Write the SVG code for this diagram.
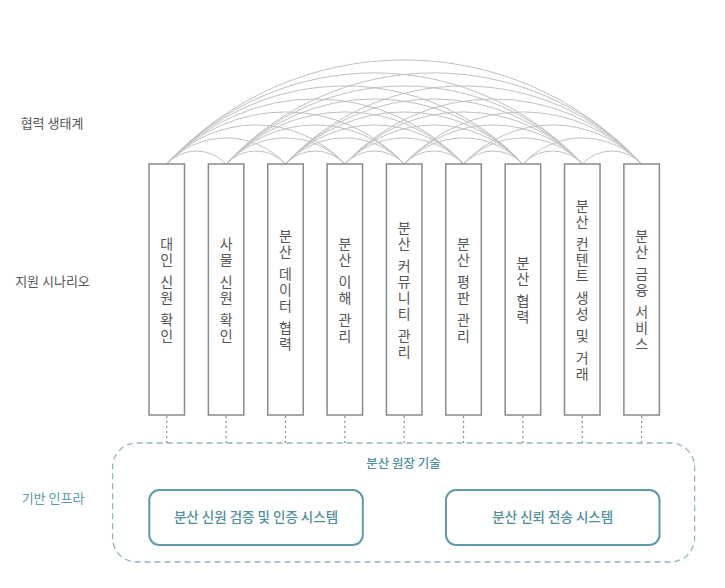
<svg xmlns="http://www.w3.org/2000/svg" width="725" height="588" viewBox="0 0 725 588">
<style>
text{font-family:"Noto Sans CJK KR","Noto Sans",sans-serif;}
.lbl{font-size:13px;fill:#555;text-anchor:middle;}
.lblt{font-size:13px;fill:#5a9aaa;text-anchor:middle;}
.arc{fill:none;stroke:#c0c0c0;stroke-width:1;}
.col{fill:#fff;stroke:#8a8a8a;stroke-width:1.5;}
.ct{font-size:14px;fill:#555;text-anchor:middle;}
.dot{stroke:#8a8a8a;stroke-width:1.2;stroke-dasharray:2 3;}
.outer{fill:none;stroke:#8fb5bf;stroke-width:1.3;stroke-dasharray:6 4;}
.inner{fill:#fff;stroke:#5e9aa9;stroke-width:2;}
.bt{font-size:13.5px;font-weight:500;fill:#4f8f9e;text-anchor:middle;}
.tt{font-size:12.5px;font-weight:500;fill:#4f8f9e;text-anchor:middle;}
</style>
<g id="labels">
<text class="lbl" x="52" y="128">협력 생태계</text>
<text class="lbl" x="52.5" y="285.5">지원 시나리오</text>
<text class="lblt" x="53" y="502.5">기반 인프라</text>
</g>
<g id="connectors">
<path class="arc" d="M166.75 164A40.4 40.4 0 0 1 226.11 164"/>
<path class="arc" d="M226.11 164A40.4 40.4 0 0 1 285.47 164"/>
<path class="arc" d="M285.47 164A40.4 40.4 0 0 1 344.83 164"/>
<path class="arc" d="M344.83 164A40.4 40.4 0 0 1 404.19 164"/>
<path class="arc" d="M404.19 164A40.4 40.4 0 0 1 463.55 164"/>
<path class="arc" d="M463.55 164A40.4 40.4 0 0 1 522.91 164"/>
<path class="arc" d="M522.91 164A40.4 40.4 0 0 1 582.27 164"/>
<path class="arc" d="M582.27 164A40.4 40.4 0 0 1 641.63 164"/>
<path class="arc" d="M166.75 164A80.7 80.7 0 0 1 285.47 164"/>
<path class="arc" d="M226.11 164A80.7 80.7 0 0 1 344.83 164"/>
<path class="arc" d="M285.47 164A80.7 80.7 0 0 1 404.19 164"/>
<path class="arc" d="M344.83 164A80.7 80.7 0 0 1 463.55 164"/>
<path class="arc" d="M404.19 164A80.7 80.7 0 0 1 522.91 164"/>
<path class="arc" d="M463.55 164A80.7 80.7 0 0 1 582.27 164"/>
<path class="arc" d="M522.91 164A80.7 80.7 0 0 1 641.63 164"/>
<path class="arc" d="M166.75 164A121.1 121.1 0 0 1 344.83 164"/>
<path class="arc" d="M226.11 164A121.1 121.1 0 0 1 404.19 164"/>
<path class="arc" d="M285.47 164A121.1 121.1 0 0 1 463.55 164"/>
<path class="arc" d="M344.83 164A121.1 121.1 0 0 1 522.91 164"/>
<path class="arc" d="M404.19 164A121.1 121.1 0 0 1 582.27 164"/>
<path class="arc" d="M463.55 164A121.1 121.1 0 0 1 641.63 164"/>
<path class="arc" d="M166.75 164A161.4 161.4 0 0 1 404.19 164"/>
<path class="arc" d="M226.11 164A161.4 161.4 0 0 1 463.55 164"/>
<path class="arc" d="M285.47 164A161.4 161.4 0 0 1 522.91 164"/>
<path class="arc" d="M344.83 164A161.4 161.4 0 0 1 582.27 164"/>
<path class="arc" d="M404.19 164A161.4 161.4 0 0 1 641.63 164"/>
<path class="arc" d="M166.75 164A201.8 201.8 0 0 1 463.55 164"/>
<path class="arc" d="M226.11 164A201.8 201.8 0 0 1 522.91 164"/>
<path class="arc" d="M285.47 164A201.8 201.8 0 0 1 582.27 164"/>
<path class="arc" d="M344.83 164A201.8 201.8 0 0 1 641.63 164"/>
<path class="arc" d="M166.75 164A242.2 242.2 0 0 1 522.91 164"/>
<path class="arc" d="M226.11 164A242.2 242.2 0 0 1 582.27 164"/>
<path class="arc" d="M285.47 164A242.2 242.2 0 0 1 641.63 164"/>
<path class="arc" d="M166.75 164A282.5 282.5 0 0 1 582.27 164"/>
<path class="arc" d="M226.11 164A282.5 282.5 0 0 1 641.63 164"/>
<path class="arc" d="M166.75 164A322.9 322.9 0 0 1 641.63 164"/>
<line class="dot" x1="166.75" y1="416" x2="166.75" y2="443"/>
<line class="dot" x1="226.11" y1="416" x2="226.11" y2="443"/>
<line class="dot" x1="285.47" y1="416" x2="285.47" y2="443"/>
<line class="dot" x1="344.83" y1="416" x2="344.83" y2="443"/>
<line class="dot" x1="404.19" y1="416" x2="404.19" y2="443"/>
<line class="dot" x1="463.55" y1="416" x2="463.55" y2="443"/>
<line class="dot" x1="522.91" y1="416" x2="522.91" y2="443"/>
<line class="dot" x1="582.27" y1="416" x2="582.27" y2="443"/>
<line class="dot" x1="641.63" y1="416" x2="641.63" y2="443"/>
</g>
<g id="col1"><rect class="col" x="149" y="164" width="35.5" height="251"/>
<text class="ct" x="166.75 166.75 166.75 166.75 166.75 166.75 166.75 166.75" y="248.5 264.5 275.5 286.5 302.5 313.5 324.5 340.5">대인 신원 확인</text></g>
<g id="col2"><rect class="col" x="208.36" y="164" width="35.5" height="251"/>
<text class="ct" x="226.11 226.11 226.11 226.11 226.11 226.11 226.11 226.11" y="248.5 264.5 275.5 286.5 302.5 313.5 324.5 340.5">사물 신원 확인</text></g>
<g id="col3"><rect class="col" x="267.72" y="164" width="35.5" height="251"/>
<text class="ct" x="285.47 285.47 285.47 285.47 285.47 285.47 285.47 285.47 285.47" y="240.5 256.5 267.5 278.5 294.5 310.5 321.5 332.5 348.5">분산 데이터 협력</text></g>
<g id="col4"><rect class="col" x="327.08" y="164" width="35.5" height="251"/>
<text class="ct" x="344.83 344.83 344.83 344.83 344.83 344.83 344.83 344.83" y="248.5 264.5 275.5 286.5 302.5 313.5 324.5 340.5">분산 이해 관리</text></g>
<g id="col5"><rect class="col" x="386.44" y="164" width="35.5" height="251"/>
<text class="ct" x="404.19 404.19 404.19 404.19 404.19 404.19 404.19 404.19 404.19 404.19" y="232.5 248.5 259.5 270.5 286.5 302.5 318.5 329.5 340.5 356.5">분산 커뮤니티 관리</text></g>
<g id="col6"><rect class="col" x="445.8" y="164" width="35.5" height="251"/>
<text class="ct" x="463.55 463.55 463.55 463.55 463.55 463.55 463.55 463.55" y="248.5 264.5 275.5 286.5 302.5 313.5 324.5 340.5">분산 평판 관리</text></g>
<g id="col7"><rect class="col" x="505.16" y="164" width="35.5" height="251"/>
<text class="ct" x="522.91 522.91 522.91 522.91 522.91" y="267.5 283.5 294.5 305.5 321.5">분산 협력</text></g>
<g id="col8"><rect class="col" x="564.52" y="164" width="35.5" height="251"/>
<text class="ct" x="582.27 582.27 582.27 582.27 582.27 582.27 582.27 582.27 582.27 582.27 582.27 582.27 582.27 582.27" y="210.5 226.5 237.5 248.5 264.5 280.5 291.5 302.5 318.5 329.5 340.5 351.5 362.5 378.5">분산 컨텐트 생성 및 거래</text></g>
<g id="col9"><rect class="col" x="623.88" y="164" width="35.5" height="251"/>
<text class="ct" x="641.63 641.63 641.63 641.63 641.63 641.63 641.63 641.63 641.63" y="240.5 256.5 267.5 278.5 294.5 305.5 316.5 332.5 348.5">분산 금융 서비스</text></g>
<g id="ledger">
<rect class="outer" x="112.6" y="443" width="582" height="119" rx="24"/>
<text class="tt" x="403.5" y="468">분산 원장 기술</text>
</g>
<g id="identity"><rect class="inner" x="149.3" y="490" width="213.5" height="55" rx="10"/>
<text class="bt" x="256" y="522">분산 신원 검증 및 인증 시스템</text></g>
<g id="trust"><rect class="inner" x="446" y="490" width="213.5" height="55" rx="10"/>
<text class="bt" x="552.75" y="522">분산 신뢰 전송 시스템</text></g>
</svg>
